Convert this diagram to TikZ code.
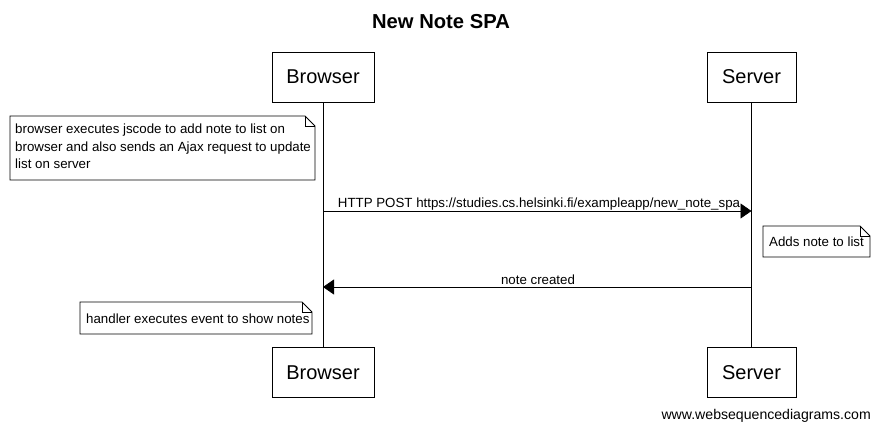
\documentclass[tikz,border=0pt]{standalone}
\usepackage{fontspec}
\setmainfont{Liberation Sans}
\usetikzlibrary{arrows.meta}
\begin{document}
\begin{tikzpicture}[x=1pt,y=-1pt,
  actor/.style={draw,line width=0.8pt,minimum width=102pt,minimum height=50pt,font=\fontsize{20}{24}\selectfont,inner sep=0pt},
  notetext/.style={font=\fontsize{13.3}{17.5}\selectfont,align=left,anchor=north west,inner sep=0pt},
  msg/.style={line width=0.8pt,-{Triangle[length=11pt,width=15pt]}},
  lbl/.style={font=\fontsize{13.3}{15}\selectfont,inner sep=0pt,anchor=base}
]
\useasboundingbox (0,0) rectangle (880,431);
% title
\node[font=\bfseries\fontsize{20.2}{24}\selectfont] (title) at (441,22) {New Note SPA};
% participants
\node[actor] (bt) at (323,77) {Browser};
\node[actor,minimum width=89pt] (st) at (751.5,77) {Server};
\node[actor] (bb) at (323,372.5) {Browser};
\node[actor,minimum width=89pt] (sb) at (751.5,372.5) {Server};
\draw[line width=0.8pt] (bt.south) -- (bb.north);
\draw[line width=0.8pt] (st.south) -- (sb.north);
% note 1
\draw[line width=0.8pt,fill=white] (10,116) -- (305,116) -- (315,126) -- (315,180) -- (10,180) -- cycle;
\draw[line width=0.6pt] (305,116) -- (305,126) -- (315,126);
\node[notetext] (n1) at (15,124) {browser executes jscode to add note to list on\\browser and also sends an Ajax request to update\\list on server};
% message 1
\coordinate (m1s) at (bt.south |- 0,211);
\coordinate (m1e) at (st.south |- 0,211);
\draw[msg] (m1s) -- (m1e);
\node[lbl] (l1) at (539,207) {HTTP POST https://studies.cs.helsinki.fi/exampleapp/new\_note\_spa};
% note 2
\draw[line width=0.8pt,fill=white] (763,226) -- (860,226) -- (870,236) -- (870,257) -- (763,257) -- cycle;
\draw[line width=0.6pt] (860,226) -- (860,236) -- (870,236);
\node[notetext,anchor=base west] (n2) at (769,246) {Adds note to list};
% message 2
\coordinate (m2s) at (st.south |- 0,287);
\coordinate (m2e) at (bt.south |- 0,287);
\draw[msg] (m2s) -- (m2e);
\node[lbl] (l2) at (538,284) {note created};
% note 3
\draw[line width=0.8pt,fill=white] (80,302) -- (302,302) -- (312,312) -- (312,334) -- (80,334) -- cycle;
\draw[line width=0.6pt] (302,302) -- (302,312) -- (312,312);
\node[notetext,anchor=base west] (n3) at (86,323) {handler executes event to show notes};
% footer
\node[font=\fontsize{14.1}{16}\selectfont,anchor=base east,inner sep=0pt] (foot) at (871,419) {www.websequencediagrams.com};
\end{tikzpicture}
\end{document}
